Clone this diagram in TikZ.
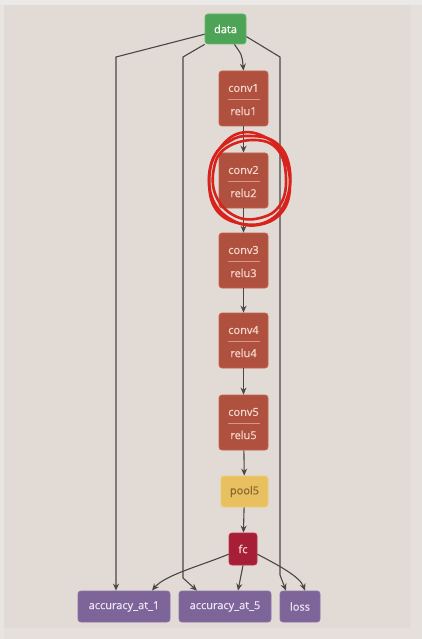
\documentclass[tikz,border=0pt]{standalone}
\usepackage{fontspec}
\setmainfont{Open Sans}
\newfontfamily\boxfont[FakeBold=0.6]{Open Sans}
\usetikzlibrary{arrows.meta}
\definecolor{bgc}{HTML}{E2DAD4}
\definecolor{topc}{HTML}{ECEAE8}
\definecolor{linec}{HTML}{484848}
\definecolor{greenc}{HTML}{4DA457}
\definecolor{greenb}{HTML}{62B86C}
\definecolor{convc}{HTML}{B0503E}
\definecolor{convb}{HTML}{C2644F}
\definecolor{convt}{HTML}{F3D8CE}
\definecolor{convd}{HTML}{D8958A}
\definecolor{poolc}{HTML}{E8C060}
\definecolor{poolb}{HTML}{F0CC70}
\definecolor{poolt}{HTML}{8A6630}
\definecolor{fcc}{HTML}{A61F37}
\definecolor{fcb}{HTML}{B83048}
\definecolor{purc}{HTML}{7D6499}
\definecolor{purb}{HTML}{8B72A6}
\definecolor{purt}{HTML}{ECE4F4}
\definecolor{redc}{HTML}{D8221C}
\tikzset{
  box/.style={rounded corners=3pt, line width=0.8pt, inner sep=0pt, font=\boxfont\fontsize{11}{13}\selectfont},
  databox/.style={box, fill=greenc, draw=greenb, text=white, minimum width=41, minimum height=30},
  convbox/.style={box, fill=convc, draw=convb, minimum width=49, minimum height=55},
  convtxt/.style={inner sep=0pt, text=convt, font=\boxfont\fontsize{11}{13}\selectfont},
  poolbox/.style={box, fill=poolc, draw=poolb, text=poolt, minimum width=47, minimum height=31},
  fcbox/.style={box, fill=fcc, draw=fcb, text=convt, minimum width=28, minimum height=32},
  purbox/.style={box, fill=purc, draw=purb, text=purt, minimum height=31},
  arr/.style={draw=linec, line width=1.1pt, -{Stealth[length=7pt,width=6pt]}},
  scrib/.style={draw=redc, line width=2.6pt, line join=round},
}
\begin{document}
\begin{tikzpicture}[x=1pt,y=-1pt]
\useasboundingbox (0,0) rectangle (422,639);
\fill[bgc] (0,0) rectangle (422,639);
\fill[topc] (0,0) rectangle (422,5);
\fill[topc!60!bgc] (0,5) rectangle (4,639);
\fill[topc!40!bgc] (411,5) rectangle (422,639);
\fill[topc!40!bgc] (4,628) rectangle (411,639);

% nodes
\node[databox] (data) at (225.5,29) {data};
\foreach \i/\y in {1/98.5,2/180.5,3/260.5,4/340.5,5/422.5}{
  \node[convbox] (c\i) at (243.5,\y) {};
  \node[convtxt] (ct\i) at (243.5,\y-10.5) {conv\i};
  \node[convtxt] (rt\i) at (243.5,\y+12.5) {relu\i};
  \draw[convd, line width=0.6pt] ([xshift=-16]c\i.center) ++(0,0.5) -- ++(32,0);
}
\node[poolbox] (pool) at (244.5,491.5) {pool5};
\node[fcbox] (fc) at (243,549) {fc};
\node[purbox, minimum width=92] (acc1) at (124,606.5) {accuracy\_at\_1};
\node[purbox, minimum width=92] (acc5) at (225,606.5) {accuracy\_at\_5};
\node[purbox, minimum width=40] (loss) at (300,606.5) {loss};

% bend points
\coordinate (k1) at (116,57);
\coordinate (k2) at (183,57);
\coordinate (k3) at (280,57);
\coordinate (k2b) at (183,578);
\coordinate (k3b) at (280,575);

% edges
\draw[arr] (data.300) .. controls (242,55) .. (c1.north);
\draw[arr] (c1) -- (c2);
\draw[arr] (c2) -- (c3);
\draw[arr] (c3) -- (c4);
\draw[arr] (c4) -- (c5);
\draw[arr] (c5) -- (pool);
\draw[arr] (pool) -- (fc);
\draw[arr] (data.194) -- (k1) -- (k1 |- acc1.north);
\draw[arr] (data.south west) -- (k2) -- (k2b) -- ([xshift=-28]acc5.north);
\draw[arr] (data.-20) -- (k3) -- (k3b) -- ([xshift=-14]loss.north);
\draw[arr] (fc.200) .. controls (200,566) and (165,575) .. ([xshift=28]acc1.north);
\draw[arr] (fc.south) -- ([xshift=13]acc5.north);
\draw[arr] (fc.-20) .. controls (280,566) and (300,577) .. ([xshift=5]loss.north);

% red scribble
\draw[scrib] plot[smooth cycle, tension=0.7] coordinates {(249,136) (275,142) (289,165) (287,198) (270,220) (243,224) (218,212) (209,185) (214,157) (230,141)};
\draw[scrib] plot[smooth cycle, tension=0.7] coordinates {(240,133) (265,137) (283,155) (290,185) (282,212) (258,225) (232,220) (213,200) (210,170) (220,148)};
\draw[scrib] plot[smooth cycle, tension=0.7] coordinates {(255,140) (278,150) (286,178) (280,205) (260,218) (235,216) (216,196) (214,168) (226,148)};
\end{tikzpicture}
\end{document}
